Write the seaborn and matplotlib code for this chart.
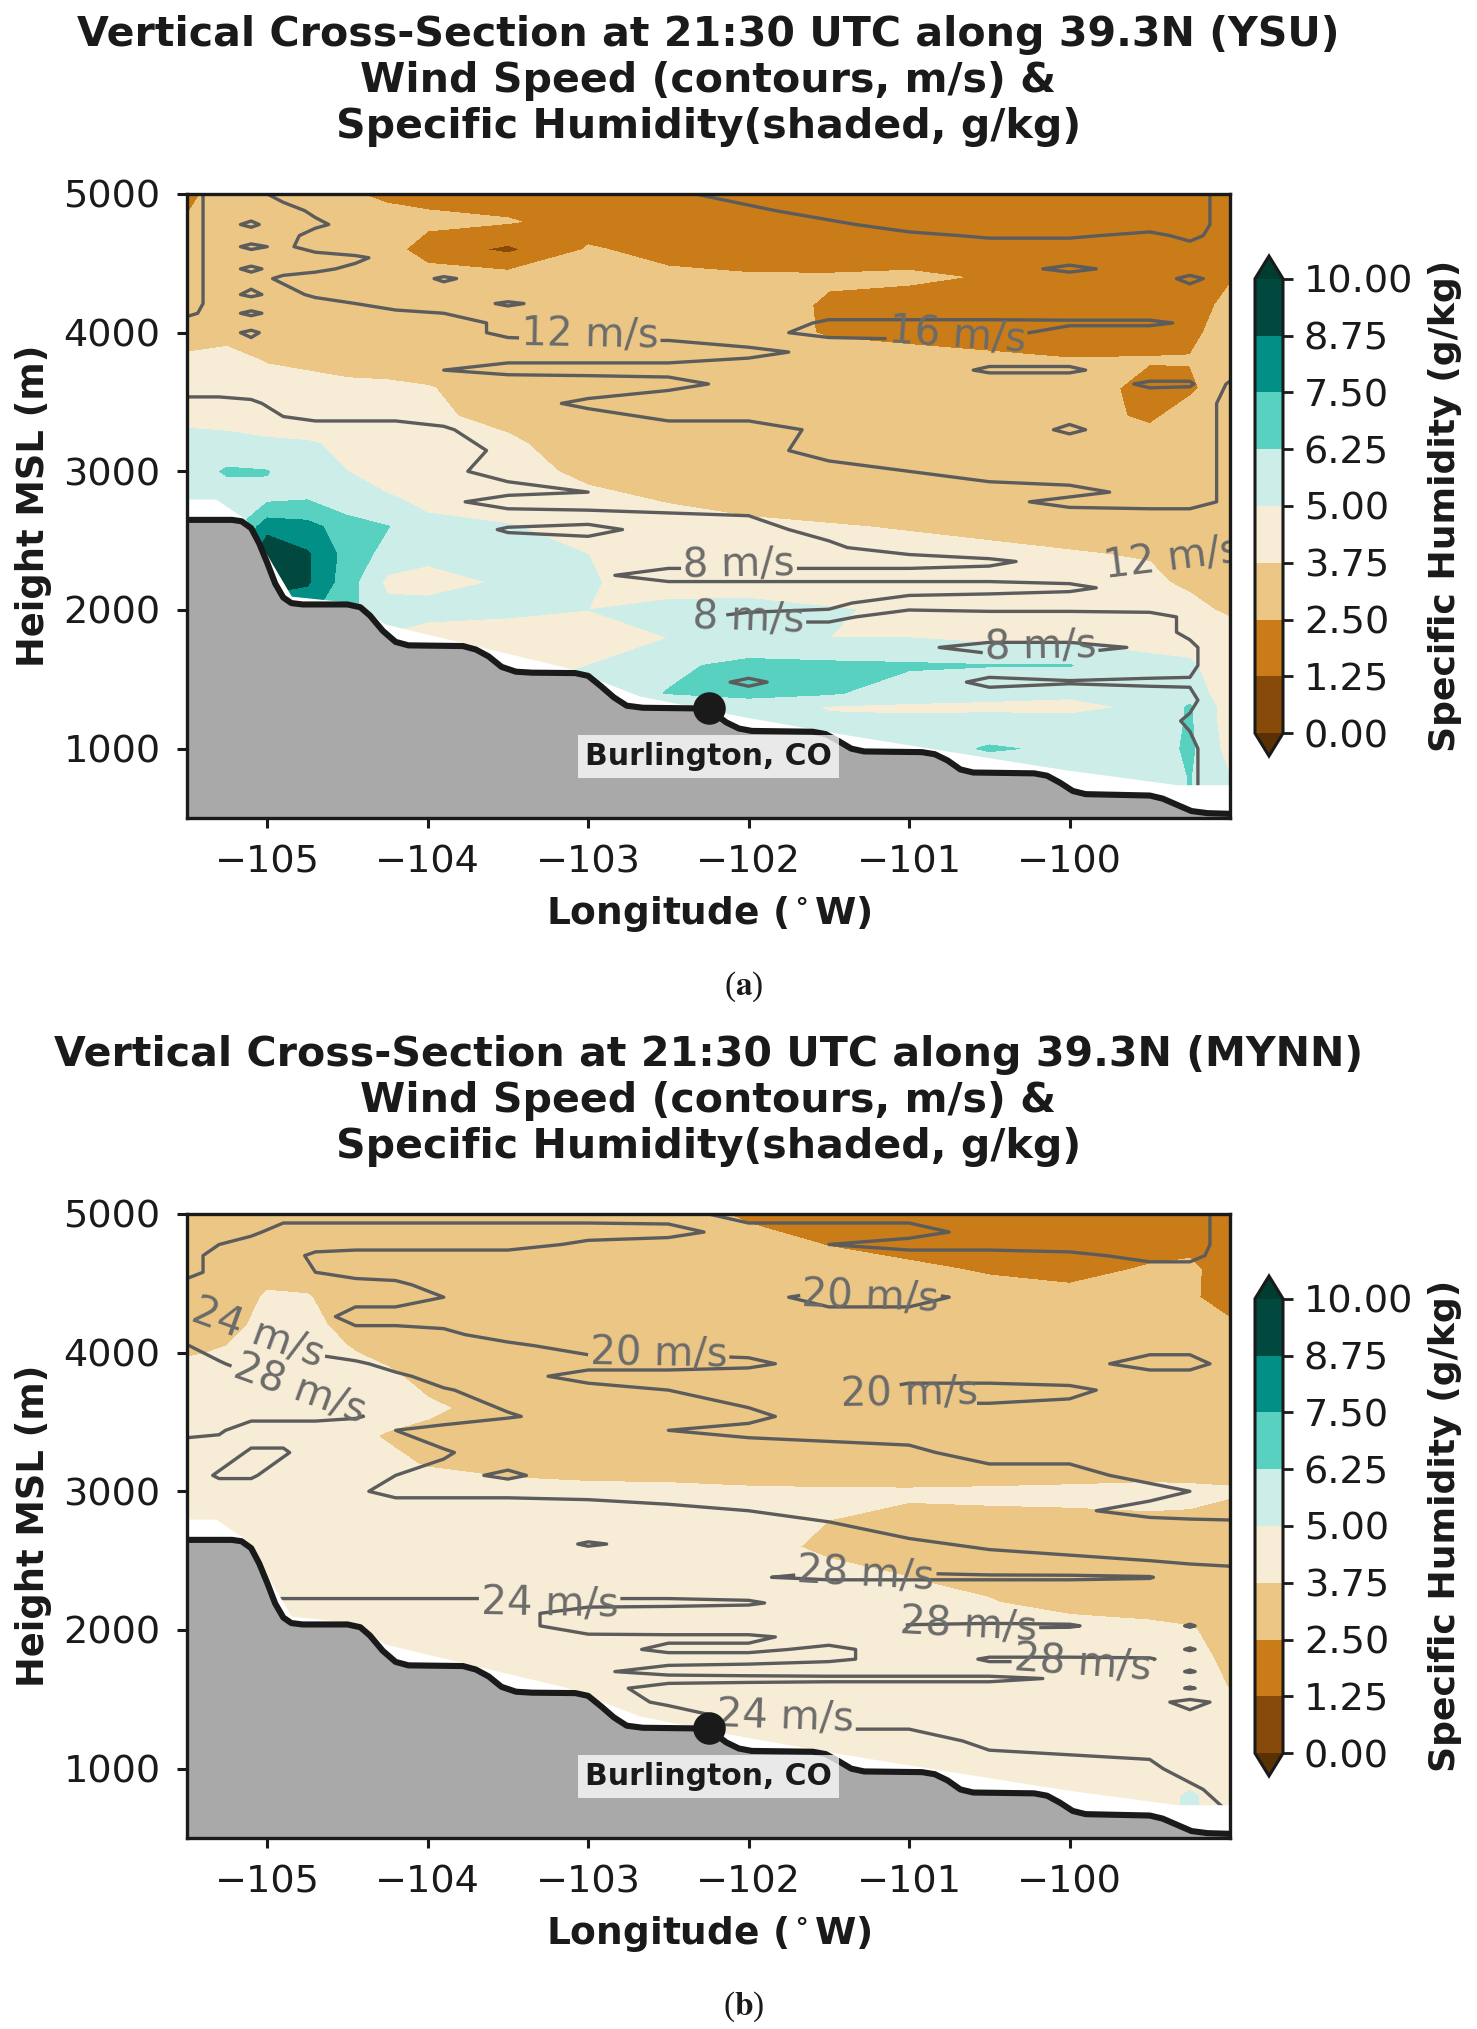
import numpy as np
import pandas as pd
import matplotlib
matplotlib.use('Agg')
import matplotlib.pyplot as plt
import seaborn as sns

sns.set_theme(style='ticks', rc={'axes.edgecolor': 'k', 'xtick.color': 'k', 'ytick.color': 'k',
                                 'text.color': 'k', 'axes.labelcolor': 'k'})
plt.rcParams['font.family'] = ['DejaVu Sans']
plt.rcParams['mathtext.default'] = 'regular'

W, H = 1477, 2029

# ---- ground profile along the section
TERRAIN_LONS = [-105.5, -105.22, -105.16, -105.1, -105.05, -105, -104.95, -104.9, -104.85, -104.78, -104.5, -104.42,
                -104.36, -104.28, -104.2, -104.12, -103.78, -103.7, -103.62, -103.54, -103.45, -103.35, -103.08,
                -103, -102.92, -102.84, -102.76, -102.66, -102.3, -102.22, -102.14, -102.06, -101.98, -101.6,
                -101.52, -101.44, -101.36, -101.28, -100.92, -100.84, -100.76, -100.68, -100.6, -100.22, -100.14,
                -100.06, -99.98, -99.9, -99.5, -99.42, -99.32, -99.24, -99.14, -99]
TERRAIN_H = [2650, 2650, 2640, 2590, 2480, 2340, 2190, 2090, 2050, 2040, 2040, 2020, 1960, 1850, 1770, 1745, 1740,
             1715, 1665, 1590, 1555, 1548, 1545, 1525, 1450, 1370, 1310, 1295, 1290, 1260, 1190, 1145, 1128, 1122,
             1105, 1055, 1000, 980, 975, 960, 915, 850, 828, 822, 805, 755, 695, 672, 662, 640, 590, 550, 535, 530]
# lowest level with model data, white gap below it
FLOOR_LONS = [-105.5, -105.32, -105.13, -104.85, -104.44, -104.27, -103.62, -103.15, -102.68, -102.03, -101.39,
              -100.8, -100.04, -99.33, -99.0]
FLOOR_H = [2800, 2800, 2650, 2100, 2050, 1900, 1720, 1590, 1380, 1230, 1100, 990, 850, 740, 740]

CITY_LON, CITY_H = -102.25, 1290

Q_LEVELS = [0, 1.25, 2.5, 3.75, 5, 6.25, 7.5, 8.75, 10]
Q_COLORS = ['#5a3103', '#874a08', '#c97c18', '#ebc685', '#f7ecd5', '#cdeee8', '#58d1c1', '#018f86', '#01493f', '#003c30']

# ---- specific humidity, g/kg
Q_LONS = [-105.5, -105.25, -105, -104.75, -104.5, -104.25, -104, -103.5, -103, -102.5, -102, -101.5, -101, -100.5,
          -100, -99.5, -99.25, -99]
Q_HEIGHTS = [5000, 4800, 4600, 4400, 4200, 4000, 3800, 3600, 3400, 3200, 3000, 2800, 2600, 2400, 2200, 2000, 1800,
             1600, 1400, 1300, 1200, 1000, 800, 500]

Q_YSU = [
    [2.2, 3.1, 3.2, 3.0, 2.6, 2.3, 2.1, 1.9, 1.8, 1.8, 1.8, 1.8, 1.8, 1.8, 1.8, 1.8, 1.8, 1.8],
    [2.6, 3.2, 3.2, 3.1, 3.0, 2.9, 2.8, 2.6, 2.0, 1.9, 1.8, 1.8, 1.7, 1.8, 1.8, 1.8, 1.8, 1.9],
    [2.7, 3.2, 3.3, 3.2, 3.1, 3.0, 1.9, 1.0, 2.6, 2.2, 2.0, 1.9, 1.9, 1.9, 1.9, 1.8, 1.9, 2.0],
    [2.8, 3.2, 3.3, 3.3, 3.2, 3.2, 3.1, 3.0, 2.9, 2.7, 2.6, 2.6, 2.7, 2.4, 2.0, 1.9, 1.9, 2.4],
    [2.9, 3.2, 3.4, 3.4, 3.3, 3.3, 3.2, 3.1, 3.0, 3.0, 2.9, 2.4, 2.0, 1.9, 1.9, 1.9, 2.0, 2.8],
    [3.4, 3.5, 3.5, 3.4, 3.4, 3.3, 3.2, 3.1, 3.1, 3.1, 3.0, 2.4, 2.2, 2.3, 2.0, 2.2, 2.3, 2.9],
    [3.9, 4.0, 3.7, 3.6, 3.5, 3.4, 3.3, 3.2, 3.1, 3.1, 3.1, 3.0, 2.9, 2.6, 2.55, 2.55, 2.55, 3.0],
    [4.2, 4.2, 4.1, 4.0, 3.9, 3.9, 3.8, 3.3, 3.2, 3.2, 3.1, 3.1, 3.0, 2.8, 3.0, 2.2, 2.3, 3.2],
    [4.6, 4.5, 4.3, 4.2, 4.1, 4.0, 3.9, 3.5, 3.3, 3.2, 3.1, 3.1, 3.0, 3.0, 3.0, 2.3, 3.0, 3.3],
    [5.5, 5.4, 5.2, 5.1, 4.8, 4.4, 4.2, 3.9, 3.3, 3.2, 3.1, 3.1, 3.1, 3.1, 3.0, 3.0, 3.1, 3.2],
    [5.6, 6.4, 6.3, 5.4, 5.0, 4.6, 4.3, 4.0, 3.6, 3.3, 3.2, 3.2, 3.1, 3.1, 3.1, 3.1, 3.2, 3.3],
    [5.5, 5.6, 6.0, 6.2, 5.3, 5.1, 4.8, 4.2, 3.9, 3.7, 3.5, 3.4, 3.3, 3.2, 3.2, 3.2, 3.3, 3.3],
    [5.5, 5.5, 8.2, 7.9, 6.9, 6.3, 5.2, 5.1, 4.5, 4.0, 3.9, 3.8, 3.7, 3.6, 3.5, 3.4, 3.4, 3.4],
    [5.5, 5.5, 10.0, 8.9, 7.0, 5.8, 5.2, 5.1, 5.0, 4.3, 4.2, 4.1, 4.0, 3.9, 3.8, 3.7, 3.5, 3.4],
    [5.5, 5.5, 10.0, 8.9, 6.8, 4.7, 4.7, 5.1, 5.1, 4.5, 4.3, 4.2, 4.2, 4.1, 4.0, 3.9, 3.6, 3.4],
    [5.5, 5.5, 7.0, 7.8, 6.6, 5.4, 5.3, 5.2, 5.0, 5.3, 5.5, 5.1, 4.8, 4.3, 4.2, 4.1, 4.0, 3.6],
    [5.0, 5.0, 5.0, 5.0, 5.1, 4.9, 4.6, 4.5, 4.6, 5.0, 5.2, 5.0, 5.0, 4.7, 4.7, 4.6, 4.4, 4.2],
    [5.0, 5.0, 5.0, 5.0, 5.0, 5.0, 4.8, 4.7, 5.0, 6.0, 6.6, 6.5, 6.4, 6.3, 6.3, 5.3, 5.2, 4.2],
    [5.0, 5.0, 5.0, 5.0, 5.0, 5.0, 5.0, 5.0, 5.5, 6.3, 6.5, 6.4, 5.6, 5.3, 5.2, 5.1, 5.7, 4.2],
    [5.0] * 10 + [5.8, 4.9, 4.8, 4.8, 4.7, 5.2, 6.4, 4.3],
    [5.0] * 10 + [5.5, 5.2, 5.2, 5.3, 5.3, 5.4, 6.4, 4.3],
    [5.0] * 12 + [5.5, 6.4, 6.0, 5.5, 6.5, 4.5],
    [5.0] * 14 + [5.5, 5.5, 6.3, 5.0],
    [5.0] * 14 + [5.5, 5.5, 6.3, 5.0],
]

Q_MYNN = [
    [3.0, 3.1, 3.2, 3.3, 3.3, 3.3, 3.3, 3.3, 3.2, 3.1, 2.3, 2.2, 2.2, 2.1, 2.1, 2.0, 2.1, 2.2],
    [3.2, 3.7, 3.3, 3.3, 3.2, 3.3, 3.3, 3.3, 3.2, 3.1, 2.9, 2.4, 2.1, 2.1, 2.1, 2.1, 2.2, 2.0],
    [3.4, 3.6, 3.6, 3.4, 3.3, 3.2, 3.3, 3.3, 3.3, 3.2, 3.2, 3.0, 2.7, 2.4, 2.2, 2.6, 2.7, 2.0],
    [3.4, 3.5, 3.8, 3.8, 3.4, 3.3, 3.3, 3.3, 3.3, 3.2, 3.2, 3.1, 3.0, 2.9, 2.8, 2.9, 2.6, 2.2],
    [3.3, 3.6, 3.9, 3.9, 3.6, 3.4, 3.3, 3.2, 3.2, 3.1, 3.1, 3.1, 3.0, 3.0, 2.9, 2.9, 2.9, 2.6],
    [3.7, 3.8, 3.9, 3.9, 3.8, 3.6, 3.5, 3.3, 3.2, 3.2, 3.1, 3.1, 3.0, 3.0, 3.0, 3.0, 3.0, 3.0],
    [4.0, 4.0, 4.0, 4.0, 4.0, 3.9, 3.6, 3.3, 3.2, 3.2, 3.1, 3.1, 3.1, 3.0, 3.0, 3.0, 3.0, 3.0],
    [4.5, 4.4, 4.3, 4.3, 4.1, 4.0, 3.85, 3.5, 3.2, 3.2, 3.1, 3.1, 3.1, 3.0, 3.0, 3.0, 3.0, 3.0],
    [4.5, 4.5, 4.4, 4.3, 3.9, 3.7, 3.6, 3.4, 3.2, 3.2, 3.1, 3.1, 3.1, 3.0, 3.0, 3.0, 3.0, 3.0],
    [4.4, 4.4, 4.4, 4.3, 4.0, 3.9, 3.7, 3.4, 3.3, 3.2, 3.1, 3.1, 3.0, 3.0, 3.1, 3.0, 3.1, 3.1],
    [4.5, 4.4, 4.3, 4.3, 4.2, 4.2, 4.1, 4.1, 4.0, 4.0, 3.9, 3.85, 3.85, 3.9, 3.95, 4.1, 4.0, 3.9],
    [4.5, 4.5, 4.4, 4.4, 4.4, 4.3, 4.3, 4.2, 4.2, 4.1, 4.0, 3.76, 3.6, 3.6, 3.6, 3.6, 3.6, 3.3],
    [4.4] * 10 + [4.2, 3.5, 3.3, 3.3, 3.3, 3.3, 3.2, 3.2],
    [4.4] * 10 + [4.3, 4.1, 3.7, 3.5, 3.5, 3.3, 3.3, 3.2],
    [4.4] * 10 + [4.3, 4.3, 4.1, 3.8, 3.4, 3.3, 3.2, 3.1],
    [4.3] * 13 + [4.2, 4.2, 4.0, 3.85, 3.3],
    [4.3] * 16 + [4.1, 3.5],
    [4.3] * 17 + [3.7],
    [4.3] * 17 + [4.0],
    [4.3] * 17 + [4.0],
    [4.3] * 17 + [4.0],
    [4.3] * 17 + [4.0],
    [4.3] * 16 + [5.2, 4.3],
    [4.3] * 16 + [5.2, 4.3],
]

# ---- wind speed, m/s
WIND_LONS = [-105.5, -105.3, -105.1, -104.9, -104.7, -104.45, -104.2, -103.9, -103.5, -103, -102.5, -102, -101.5,
             -101, -100.5, -100, -99.5, -99.25, -99]

WIND_YSU_H = [5000, 4880, 4780, 4700, 4620, 4540, 4460, 4390, 4275, 4210, 4140, 4070, 4000, 3860, 3730, 3630, 3490,
              3300, 3150, 3000, 2850, 2780, 2680, 2580, 2450, 2350, 2250, 2160, 2050, 1950, 1840, 1730, 1600, 1480,
              1350, 1200, 1000, 500]
WIND_YSU = [
    [13, 11, 11, 13, 14, 14, 14, 14, 14, 14, 15.5, 17, 17, 17, 17, 17, 17, 17, 15],
    [13, 11, 10.5, 11, 12.5, 13.5, 14, 14, 14, 14, 14, 15.5, 17, 17, 17, 17, 17, 17, 15],
    [13, 11, 12.5, 10.5, 11.5, 13, 14, 14, 14, 14, 14, 15, 15.5, 17, 17, 17, 17, 17, 15],
    [13, 11, 10.5, 11, 13, 14, 14, 14, 14, 14, 14, 15, 15, 15.5, 16.3, 16.3, 15.5, 16.5, 15],
    [13, 11, 12.5, 11.5, 13, 14, 14, 14, 14, 14, 14, 15, 15, 15, 15, 15, 15, 15.5, 15],
    [13, 11, 10.5, 10.8, 11, 11.5, 13, 14, 14, 14, 14, 15, 15, 15, 15, 15, 15, 15, 15],
    [13, 11, 12.5, 11, 11.5, 12.5, 14, 14, 14, 14, 14, 15, 15, 15, 15, 16.5, 15, 15, 15],
    [13, 11, 11, 12.5, 13, 14, 14, 11.5, 14, 14, 14, 15, 15, 15, 15, 15, 15, 16.5, 15],
    [13, 11, 12.5, 11, 12.5, 14, 14, 14, 14, 14, 14, 15, 15, 15, 15, 15, 15, 15, 15],
    [13, 11, 10.5, 10.5, 11, 12, 14, 14, 11.5, 14, 14, 15, 15, 15, 15, 15, 15, 15, 15],
    [12.5, 11, 12.5, 11, 11, 11, 11, 12, 13.5, 14, 14, 15, 15, 15, 15, 15, 15, 15, 15],
    [11, 11, 10.5, 10.5, 10.5, 10.5, 10.5, 11, 12.5, 13.5, 13.5, 14, 16.5, 16.5, 16.5, 16.4, 16.4, 15.7, 15],
    [11, 11, 12.5, 10.5, 10, 10, 10, 11, 12.5, 13, 13, 15, 17, 17, 17, 15, 15, 15, 15],
    [10.5] * 11 + [11, 13, 14, 14, 14, 14, 14, 14],
    [10, 10, 10, 10, 10, 10, 10, 12, 13, 13, 13, 14, 14, 14, 16.5, 16.5, 14, 14, 14],
    [10] * 9 + [10.5, 11, 13, 14, 14, 14, 14, 16.5, 16.5, 11.5],
    [7, 7, 7.5, 9, 10, 10, 10, 10, 11, 12.5, 14, 14, 14, 14, 14, 14, 14, 13, 11.5],
    [7, 7, 7, 7, 7, 7, 7, 7.7, 9.5, 10, 11, 11, 12.5, 14, 14, 11.5, 14, 13, 11.5],
    [7, 7, 7, 7, 7, 7, 7, 7, 8.5, 10, 10.5, 11, 13, 14, 14, 14, 14, 13, 11.5],
    [7, 7, 7, 7, 7, 7, 7, 7.7, 8.5, 10, 10.5, 11, 11, 12, 13, 14, 14, 13, 11.5],
    [7] * 8 + [7.5, 8, 10, 10, 10, 10.5, 11, 11, 13, 13, 11.5],
    [7] * 7 + [7.5, 9, 9.5, 10, 10, 10, 10.5, 11, 13, 13, 13, 11.5],
    [7] * 10 + [7.5, 8, 9.5, 10, 10, 10.5, 11, 11, 11],
    [7] * 8 + [8.2, 8.6, 7.2, 7.5, 8.5, 10, 10, 10.5, 10.5, 11, 11],
    [7] * 12 + [7.7, 9, 10, 10, 11, 11.5, 11],
    [7] * 14 + [7.5, 9, 11, 13, 13],
    [7] * 9 + [7.5, 9, 9, 9, 9, 9, 9, 10, 10.5, 11],
    [7] * 15 + [7.5, 9, 10, 11],
    [7] * 12 + [7.6, 9, 9.5, 9.5, 10, 10, 11],
    [7] * 10 + [7.5, 8.5, 8.5, 7, 7, 7, 7, 8.5, 11],
    [7] * 17 + [8.5, 10],
    [7] * 13 + [7.7, 8.5, 8.5, 7.8, 7.5, 10],
    [7] * 17 + [7.5, 10],
    [7] * 11 + [8.3, 7, 7, 8.4, 8.1, 8.3, 8.2, 10],
    [7] * 17 + [7.5, 10],
    [7] * 17 + [8.3, 10],
    [7] * 17 + [7.5, 10],
    [7] * 17 + [7.5, 10],
]

WIND_MYNN_H = [5000, 4870, 4780, 4700, 4580, 4490, 4400, 4260, 4130, 4050, 3920, 3830, 3730, 3540, 3440, 3280, 3115,
               3000, 2860, 2740, 2620, 2500, 2380, 2290, 2195, 2120, 2030, 1950, 1860, 1790, 1700, 1650, 1580, 1480,
               1370, 1200, 1000, 850, 500]
WIND_MYNN = [
    [19] * 11 + [21] * 7 + [19],
    [19, 19, 19.5, 21, 21, 21, 21, 21, 21, 21, 20.8, 19, 19, 19, 21, 21, 21, 21, 19],
    [19, 20, 21, 21, 21, 21, 21, 21, 21, 19.5, 19, 19, 20, 21, 21, 21, 21, 21, 19],
    [19, 21, 21, 21, 19.5] + [19] * 10 + [19.5, 20.6, 20.6, 19],
    [19, 21, 21, 21, 20] + [19] * 14,
    [21] * 6 + [20.5] + [19] * 12,
    [21] * 7 + [20, 19, 19, 19, 19, 21, 21, 19, 19, 19, 19, 19],
    [23.5, 21, 21, 21, 21] + [19] * 14,
    [25, 24.5, 23.5, 22, 21, 21, 21, 20.5] + [19] * 11,
    [28.2, 25.5, 25, 24, 23, 21.5, 21, 21, 20.5] + [19] * 10,
    [29, 28.5, 26, 25.5, 25, 24.5, 23, 22, 21, 21, 21, 20.5, 19, 19, 19, 19, 21, 21, 19],
    [29, 29, 28.5, 26, 25.5, 25, 24.5, 23, 21] + [19] * 10,
    [29, 29, 29, 28.5, 26, 25.5, 25, 24.2, 23, 21, 20, 19, 19, 21, 21, 20.5, 19, 19, 19],
    [29, 29, 29, 29, 29, 28.5, 26, 25.5, 24.2, 23, 21.5, 20.5] + [19] * 7,
    [29, 28.5, 26, 26, 26, 25, 24, 23, 22.5, 22, 20, 19.5] + [19] * 7,
    [26, 26, 28.5, 28.5, 26, 25.5, 25, 24.2, 23, 22, 21.5, 21, 21, 20.5, 19, 19, 19, 19, 19],
    [26, 28.5, 28.5, 26, 26, 25, 24, 23.5, 24.3, 23, 22, 22, 21.5, 21.5, 21, 21, 19, 19, 19],
    [26, 26, 26, 26, 25.5, 24.5, 23, 23, 23, 22.5, 22, 22, 22, 22, 21.5, 21.5, 21, 20, 19],
    [26] * 10 + [25, 24, 23, 22.5, 22, 20.5, 19, 19, 19],
    [26] * 11 + [25.5, 24.5, 23, 22.5, 22, 21.5, 21, 20.8],
    [26] * 9 + [28.3, 27, 26, 25.5, 24.5, 23.5, 23, 23, 23, 23],
    [26] * 11 + [26.5, 27, 26.5, 25, 24.5, 24, 23.5, 23.5],
    [26] * 11 + [27.8, 28.5, 28.5, 28.5, 28.5, 28.2, 26, 25],
    [26] * 19,
    [23] * 11 + [23.5] + [26] * 7,
    [23] * 9 + [25.5] + [26] * 9,
    [23] * 9 + [25.5, 26, 26, 26, 28.2, 28.5, 28.3, 26, 28.3, 26],
    [23] * 9 + [23.5, 23.5, 23.5, 25, 26, 26, 26, 26, 26, 26],
    [23] * 10 + [24.5, 24.5, 23.5, 25, 26, 26, 26, 28.3, 26],
    [23] * 12 + [23.5, 25, 28.5, 28.5, 28.3, 26, 26],
    [23] * 9 + [23.5, 25, 25.5, 26, 26, 26, 26, 26, 28.3, 26],
    [23] * 15 + [24.5, 25.5, 26, 26],
    [23] * 10 + [25, 25.5, 26, 26, 26, 26, 26, 28.3, 26],
    [23] * 10 + [24.3, 25, 25, 25, 25, 25, 25, 23, 25],
    [23] * 11 + [24.5, 25, 25, 25, 25, 25, 25, 25],
    [23] * 14 + [24.5, 25, 25, 25, 25],
    [23] * 16 + [23.5, 25, 25],
    [23] * 17 + [23.5, 25],
    [23] * 19,
]

TITLE_YSU = 'Vertical Cross-Section at 21:30 UTC along 39.3N (YSU)\nWind Speed (contours, m/s) &\nSpecific Humidity(shaded, g/kg)'
TITLE_MYNN = 'Vertical Cross-Section at 21:30 UTC along 39.3N (MYNN)\nWind Speed (contours, m/s) &\nSpecific Humidity(shaded, g/kg)'

# label spots on the wind contours, with the slant of each label
LABELS_YSU = [(-102.99, 3976), (-100.7, 3976), (-102.06, 2323), (-102.0, 1933), (-100.18, 1726), (-99.36, 2369)]
TILT_YSU = [-1, -4, 1, -2, 1, 7]
LABELS_MYNN = [(-101.24, 4394), (-102.56, 3983), (-101.0, 3699), (-105.06, 4134), (-104.8, 3732), (-101.27, 2397),
               (-103.24, 2180), (-100.63, 2028), (-99.92, 1754), (-101.77, 1366)]
TILT_MYNN = [-2, -1, 1, -20, -20, -3, -1, -3, -4, -2]


def axes_px(fig, left, top, right, bottom):
    return fig.add_axes([left / W, 1 - bottom / H, (right - left) / W, (bottom - top) / H])


def draw_panel(fig, top, q, wind_h, wind, wind_levels, label_spots, tilts, title, caption):
    ax = axes_px(fig, 187, top, 1230, top + 624)
    cax = axes_px(fig, 1255, top + 62, 1283, top + 562)

    cf = ax.contourf(Q_LONS, Q_HEIGHTS[::-1], np.array(q)[::-1], levels=Q_LEVELS, colors=Q_COLORS, extend='both',
                     zorder=1)
    cs = ax.contour(WIND_LONS, wind_h[::-1], np.array(wind)[::-1], levels=wind_levels, colors='#5c5c5c',
                    linewidths=2.4, zorder=2)
    lbls = ax.clabel(cs, levels=wind_levels, fmt='%d m/s', fontsize=29, manual=label_spots, inline=True,
                     inline_spacing=2, colors='#6b6b6b')
    for t, spot, tilt in zip(lbls, label_spots, tilts):
        t.set_position(spot)
        t.set_rotation(tilt)
        t.set_clip_on(True)
        t.set_clip_box(ax.bbox)

    # gap and ground, drawn over the shading
    floor = pd.DataFrame({'lon': FLOOR_LONS, 'h': FLOOR_H})
    ground = pd.DataFrame({'lon': TERRAIN_LONS, 'h': TERRAIN_H})
    ax.fill_between(floor['lon'], 0, floor['h'], color='white', lw=0, zorder=3)
    ax.fill_between(ground['lon'], 0, ground['h'], color='#a9a9a9', lw=0, zorder=4)
    sns.lineplot(data=ground, x='lon', y='h', color='k', lw=4.4, sort=False, estimator=None, errorbar=None, ax=ax,
                 zorder=5)
    sns.scatterplot(x=[CITY_LON], y=[CITY_H], s=470, color='k', edgecolor='k', ax=ax, zorder=6, clip_on=False)
    ax.text(CITY_LON, 945, 'Burlington, CO', ha='center', va='center', fontsize=21.5, fontweight='bold', zorder=7,
            bbox=dict(facecolor='white', alpha=0.75, edgecolor='none', pad=5))

    ax.set_xlim(-105.5, -99)
    ax.set_ylim(500, 5000)
    ax.set_xticks([-105, -104, -103, -102, -101, -100])
    ax.set_yticks([1000, 2000, 3000, 4000, 5000])
    ax.tick_params(labelsize=27.5, width=2.2, length=7, pad=12)
    ax.set_xlabel('Longitude ($^\\circ$W)', fontsize=27, fontweight='bold', labelpad=10)
    ax.set_ylabel('Height MSL (m)', fontsize=26.5, fontweight='bold', labelpad=8)
    ax.set_title(title, fontsize=29.6, fontweight='bold', pad=40)
    for s in ax.spines.values():
        s.set_linewidth(2.4)
        s.set_zorder(8)

    cb = fig.colorbar(cf, cax=cax, ticks=Q_LEVELS, format='%.2f')
    cb.set_label('Specific Humidity (g/kg)', fontsize=26, fontweight='bold', labelpad=11)
    cb.ax.tick_params(labelsize=27.5, width=2.0, length=7, pad=8)
    cb.outline.set_linewidth(2.2)

    fig.text(744 / W, 1 - (top + 793) / H, caption, ha='center', va='center', fontsize=24, family='Liberation Serif')
    return ax


fig = plt.figure(figsize=(W / 100, H / 100), dpi=100, facecolor='white')
plt.rcParams['mathtext.fontset'] = 'stix'
draw_panel(fig, 194, Q_YSU, WIND_YSU_H, WIND_YSU, [8, 12, 16], LABELS_YSU, TILT_YSU, TITLE_YSU, '($\\mathbf{a}$)')
draw_panel(fig, 1214, Q_MYNN, WIND_MYNN_H, WIND_MYNN, [20, 24, 28], LABELS_MYNN, TILT_MYNN, TITLE_MYNN, '($\\mathbf{b}$)')

fig.savefig('out.png', dpi=100)
